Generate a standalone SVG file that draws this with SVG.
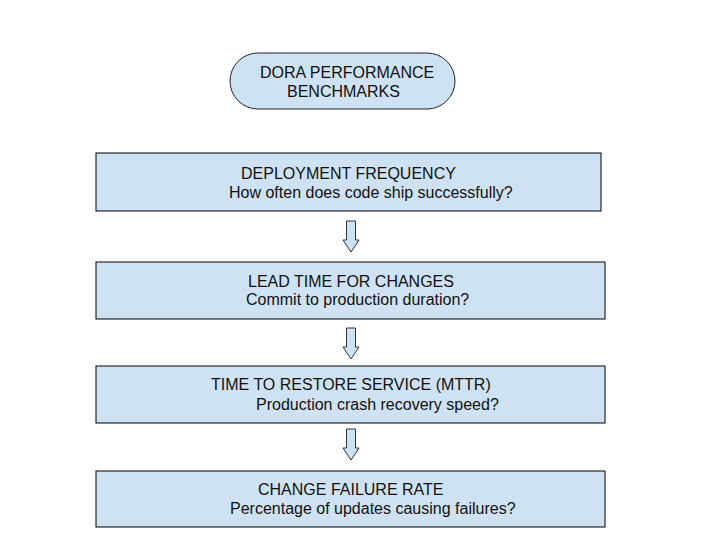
<svg xmlns="http://www.w3.org/2000/svg" width="720" height="540" viewBox="0 0 720 540">
<style>
.box{fill:#cfe2f3;stroke:#000;stroke-width:1}
.pill{fill:#cfe2f3;stroke:#222;stroke-width:1}
.arr{fill:#cfe2f3;stroke:#333;stroke-width:1;stroke-linejoin:miter}
text{font-family:"Liberation Sans",Arial,sans-serif;font-size:16px;fill:#111}
</style>
<rect width="720" height="540" fill="#fff"/>
<g id="title">
<rect class="pill" x="230" y="53" width="225" height="56" rx="28" ry="28"/>
<text x="260" y="78">DORA PERFORMANCE</text>
<text x="287" y="97">BENCHMARKS</text>
</g>
<g id="deployment-frequency">
<rect class="box" x="96" y="153" width="505" height="58"/>
<text x="241" y="179">DEPLOYMENT FREQUENCY</text>
<text x="229" y="198">How often does code ship successfully?</text>
</g>
<g id="lead-time">
<rect class="box" x="96" y="262" width="509" height="57"/>
<text x="248" y="287">LEAD TIME FOR CHANGES</text>
<text x="246" y="305">Commit to production duration?</text>
</g>
<g id="mttr">
<rect class="box" x="96" y="366" width="509" height="57"/>
<text x="211" y="390">TIME TO RESTORE SERVICE (MTTR)</text>
<text x="256" y="410">Production crash recovery speed?</text>
</g>
<g id="change-failure-rate">
<rect class="box" x="96" y="471" width="509" height="56"/>
<text x="258" y="495">CHANGE FAILURE RATE</text>
<text x="230" y="514">Percentage of updates causing failures?</text>
</g>
<g id="connectors">
<path class="arr" d="M346.5,221 H355.5 V240 H359 L351,252 L343,240 H346.5 Z"/>
<path class="arr" d="M346.5,328 H355.5 V347 H359 L351,359 L343,347 H346.5 Z"/>
<path class="arr" d="M346.5,429 H355.5 V448 H359 L351,460 L343,448 H346.5 Z"/>
</g>
</svg>
